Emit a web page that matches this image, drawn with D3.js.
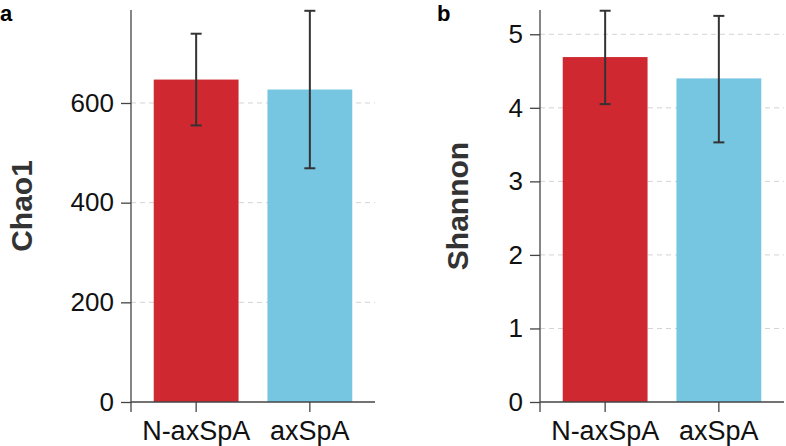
<!DOCTYPE html>
<html><head><meta charset="utf-8">
<script src="https://cdn.jsdelivr.net/npm/d3@7"></script>
<style>body{margin:0;background:#fff}</style></head>
<body><svg id="c" width="786" height="446"></svg>
<script>
const categories = ["N-axSpA", "axSpA"];
const colors = ["#CF2830", "#76C5E1"];
const chao1Mean = [647, 627];
const chao1Err = [92, 158];
const shannonMean = [4.69, 4.40];
const shannonLow = [4.05, 3.53];
const shannonHigh = [5.32, 5.25];
const chao1Ticks = [0, 200, 400, 600];
const shannonTicks = [0, 1, 2, 3, 4, 5];

const svg = d3.select("#c");
const font = "'Liberation Sans', Arial, sans-serif";

function panel(opt) {
  const g = svg.append("g");
  const y = d3.scaleLinear().domain([0, opt.ymax]).range([402, 10]);
  const x = d3.scaleBand().domain(categories).range([opt.x0, opt.x0 + 244]).paddingInner(0.254).paddingOuter(0.2);
  // grid
  g.selectAll(".grid").data(opt.ticks.filter(t => t > 0)).enter().append("line")
    .attr("x1", opt.x0).attr("x2", opt.x0 + 244)
    .attr("y1", d => y(d)).attr("y2", d => y(d))
    .attr("stroke", "#d3d3d3").attr("stroke-width", 1).attr("stroke-dasharray", "5,4");
  // bars
  g.selectAll(".bar").data(categories).enter().append("rect")
    .attr("x", d => x(d)).attr("width", x.bandwidth())
    .attr("y", (d, i) => y(opt.mean[i])).attr("height", (d, i) => y(0) - y(opt.mean[i]))
    .attr("fill", (d, i) => colors[i]);
  // error bars
  categories.forEach((c, i) => {
    const cx = x(c) + x.bandwidth() / 2;
    const lo = opt.low[i], hi = opt.high[i];
    g.append("line").attr("x1", cx).attr("x2", cx).attr("y1", y(lo)).attr("y2", y(hi))
      .attr("stroke", "#333").attr("stroke-width", 2);
    [lo, hi].forEach(v => g.append("line").attr("x1", cx - 5.5).attr("x2", cx + 5.5)
      .attr("y1", y(v)).attr("y2", y(v)).attr("stroke", "#333").attr("stroke-width", 2));
  });
  // y axis
  const ya = d3.axisLeft(y).tickValues(opt.ticks).tickSize(10).tickPadding(7).tickFormat(d3.format("d"));
  const yg = g.append("g").attr("transform", `translate(${opt.x0},0)`).call(ya);
  yg.select(".domain").remove();
  yg.selectAll(".tick line").attr("stroke", "#444").attr("stroke-width", 1.3);
  yg.selectAll("text").attr("font-family", font).attr("font-size", 26).attr("fill", "#111");
  g.append("line").attr("x1", opt.x0).attr("x2", opt.x0).attr("y1", 10).attr("y2", 412)
    .attr("stroke", "#444").attr("stroke-width", 1.3);
  // x axis
  const xa = d3.axisBottom(x).tickSize(10).tickPadding(9);
  const xg = g.append("g").attr("transform", "translate(0,402)").call(xa);
  xg.select(".domain").remove();
  xg.selectAll(".tick line").attr("stroke", "#444").attr("stroke-width", 1.3);
  xg.selectAll("text").attr("font-family", font).attr("font-size", 27).attr("fill", "#111");
  g.append("line").attr("x1", opt.x0).attr("x2", opt.x0 + 244).attr("y1", 402).attr("y2", 402)
    .attr("stroke", "#444").attr("stroke-width", 1.3);
  // axis title
  g.append("text").attr("transform", `translate(${opt.titleX},206) rotate(-90)`)
    .attr("text-anchor", "middle").attr("font-family", font).attr("font-weight", "bold")
    .attr("font-size", 30).attr("fill", "#333").text(opt.title);
  // panel letter
  g.append("text").attr("x", opt.letterX).attr("y", 21).attr("font-family", font)
    .attr("font-weight", "bold").attr("font-size", 22).attr("fill", "#000").text(opt.letter);
}

panel({x0: 131, ymax: 786.6, ticks: chao1Ticks, mean: chao1Mean,
  low: chao1Mean.map((m, i) => m - chao1Err[i]), high: chao1Mean.map((m, i) => m + chao1Err[i]),
  title: "Chao1", titleX: 32, letter: "a", letterX: 0});
panel({x0: 540, ymax: 5.33, ticks: shannonTicks, mean: shannonMean,
  low: shannonLow, high: shannonHigh,
  title: "Shannon", titleX: 468, letter: "b", letterX: 437});
</script></body></html>
